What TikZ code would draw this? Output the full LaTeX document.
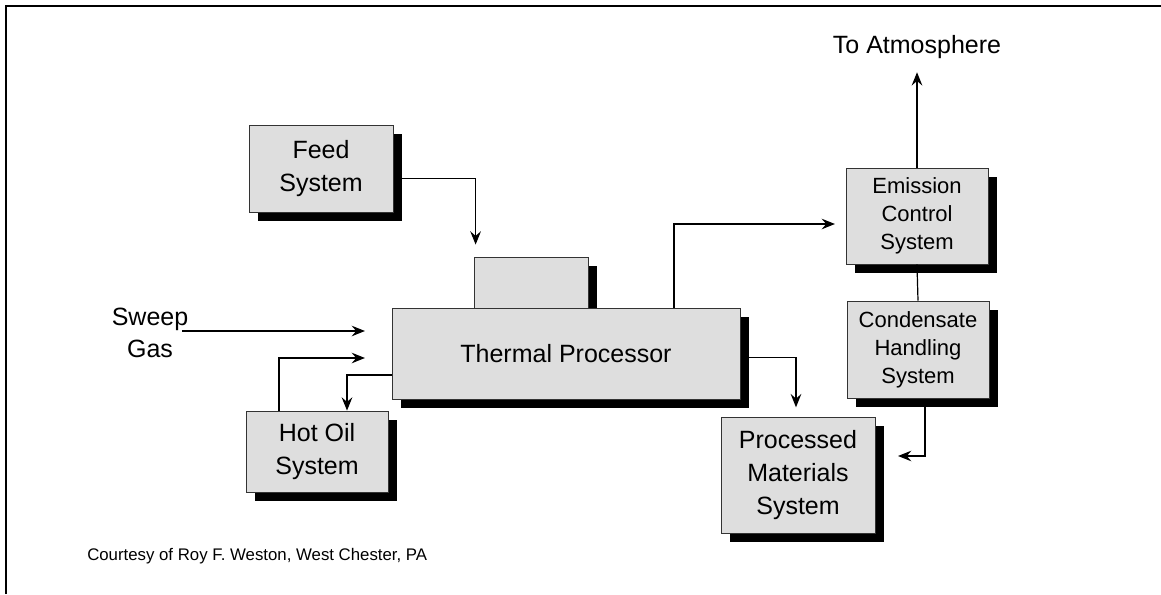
\documentclass[tikz,border=0pt]{standalone}
\usepackage{fontspec}
\setmainfont{Liberation Sans}
\usetikzlibrary{arrows.meta,shadows,calc}
\tikzset{%
  >={Stealth[length=10pt,width=8pt,inset=3.5pt]},
  % Specifications for style of nodes:
            base/.style = {rectangle, draw=black!80, line width=0.6pt,
                           fill=black!13, inner sep=0pt, align=center,
                           drop shadow={shadow xshift=6.75pt, shadow yshift=-7pt,
                                        fill=black, opacity=1}},
       bigbox/.style = {base, font=\fontsize{18.75}{24.5}\selectfont},
       smallbox/.style = {base, font=\fontsize{16.5}{21}\selectfont},
       label/.style = {align=center, inner sep=0pt, font=\fontsize{18.75}{24}\selectfont},
       flow/.style = {->, line width=0.9pt},
}
\begin{document}
\begin{tikzpicture}[x=0.75pt, y=-0.75pt]
  \useasboundingbox (0,0) rectangle (1161,594);
  % frame
  \draw[line width=1.5pt] (6,594) -- (6,6) -- (1161,6);

  % Specification of nodes (position, etc.)
  \node (feed)       [bigbox, minimum width=108pt, minimum height=65.25pt] at (321,168.5) {Feed\\System};
  \node (hopper)     [base, minimum width=85.5pt, minimum height=38.25pt] at (531,282.5) {};
  \node (main)       [bigbox, minimum width=261pt, minimum height=68.25pt] at (566,353.5) {Thermal Processor};
  \node (emission)   [smallbox, minimum width=106.5pt, minimum height=72pt] at (917,216) {Emission\\Control\\System};
  \node (condensate) [smallbox, minimum width=106.5pt, minimum height=72.75pt] at (918,349.5) {Condensate\\Handling\\System};
  \node (processed)  [bigbox, minimum width=115.5pt, minimum height=87pt] at (798,475) {Processed\\Materials\\System};
  \node (hotoil)     [bigbox, minimum width=106.5pt, minimum height=60.75pt] at (317,451.5) {Hot Oil\\System};
  \node (sweep)      [label] at (150,333) {Sweep\\Gas};
  \node (atmos)      [label] at (917,47) {To Atmosphere};
  \node (credit)     [anchor=west, inner sep=0pt, font=\fontsize{12.6}{14}\selectfont] at (87,556)
                     {Courtesy of Roy F. Weston, West Chester, PA};

  % Specification of lines between nodes specified above
  \draw[flow, shorten >=9]  ($(feed.east)+(9,10)$) -| ($(hopper.north west)+(2,0)$);
  \draw[flow, shorten >=20] ($(sweep.east)+(-6,-2)$) -- ($(main.west)+(0,-22.5)$);
  \draw[flow, shorten >=20] ($(hotoil.north)+(-38,0)$) |- ($(main.west)+(0,4.5)$);
  \draw[flow]               ($(main.west)+(0,21.5)$) -| ($(hotoil.north)+(30,0)$);
  \draw[flow, shorten >=8]  ($(main.north)+(108,0)$) |- ($(emission.west)+(0,8)$);
  \draw[flow, shorten >=10] (emission.north) -- (atmos.south);
  \draw[line width=0.9pt]   (emission.south) -- (condensate.north);
  \draw[flow, shorten >=17] ($(condensate.south)+(7,9)$) |- ($(processed.east)+(0,-19)$);
  \draw[flow, shorten >=7]  ($(main.east)+(9,4)$) -| ($(processed.north)+(-2,0)$);
\end{tikzpicture}
\end{document}
